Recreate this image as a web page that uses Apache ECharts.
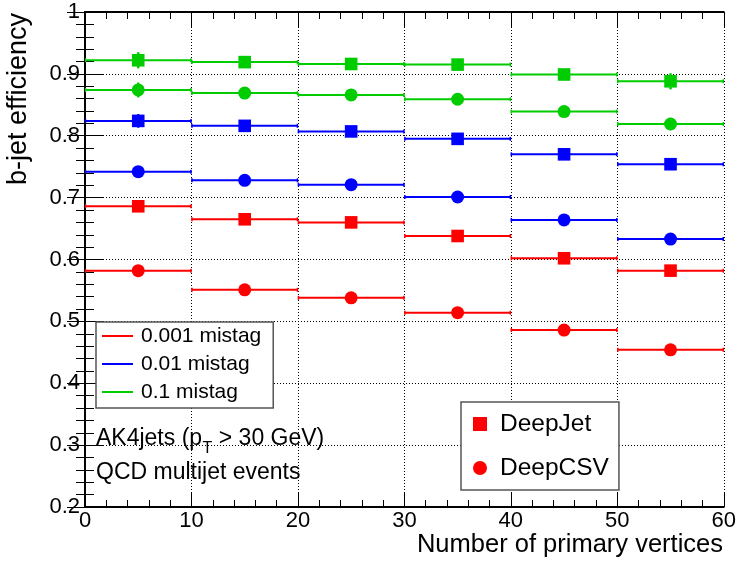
<!DOCTYPE html>
<html>
<head>
<meta charset="utf-8">
<script src="https://cdn.jsdelivr.net/npm/echarts@6/dist/echarts.min.js"></script>
<style>
  html, body { margin: 0; padding: 0; background: #fff; }
  #chart { width: 739px; height: 562px; }
</style>
</head>
<body>
<div id="chart"></div>
<script>
// bins of number of primary vertices
var binEdges = [0, 10, 20, 30, 40, 50, 60];

// b-jet efficiency, one value per bin
var deepJet_0001 = [0.686, 0.665, 0.660, 0.638, 0.602, 0.582];
var deepCSV_0001 = [0.582, 0.551, 0.538, 0.514, 0.486, 0.454];
var deepJet_001 = [0.824, 0.816, 0.807, 0.795, 0.770, 0.754];
var deepCSV_001 = [0.742, 0.728, 0.721, 0.701, 0.664, 0.633];
var deepJet_01 = [0.922, 0.919, 0.916, 0.915, 0.899, 0.888];
var deepCSV_01 = [0.874, 0.869, 0.866, 0.859, 0.839, 0.819];

// statistical errors (only a few stick out of the markers)
var errJet_0001 = [0, 0, 0, 0, 0, 0];
var errCSV_0001 = [0, 0, 0, 0, 0, 0];
var errJet_001 = [0.011, 0, 0, 0, 0, 0];
var errCSV_001 = [0, 0, 0, 0, 0, 0];
var errJet_01 = [0.013, 0, 0, 0, 0, 0.013];
var errCSV_01 = [0.012, 0, 0, 0, 0, 0.010];

var yTicks = [0.2, 0.3, 0.4, 0.5, 0.6, 0.7, 0.8, 0.9, 1];

var fontFamily = "'Liberation Sans', Arial, sans-serif";
var red = "#ff0000", blue = "#0000ff", green = "#00cc00";

function binData(values, errs) {
    var out = [];
    for (var i = 0; i < values.length; i++) {
        out.push([binEdges[i], binEdges[i + 1], values[i], errs[i]]);
    }
    return out;
}

function makeRender(marker) {
    return function (params, api) {
        var lo = api.value(0), hi = api.value(1), v = api.value(2), e = api.value(3);
        var color = api.visual('color');
        var pL = api.coord([lo, v]);
        var pR = api.coord([hi, v]);
        var pC = api.coord([(lo + hi) / 2, v]);
        var lineStyle = { stroke: color, lineWidth: 2 };
        var children = [
            { type: 'line', shape: { x1: pL[0], y1: pL[1], x2: pR[0], y2: pR[1] }, style: lineStyle },
            { type: 'line', shape: { x1: pL[0] + 0.5, y1: pL[1] - 2, x2: pL[0] + 0.5, y2: pL[1] + 2 }, style: { stroke: color, lineWidth: 1.5 } },
            { type: 'line', shape: { x1: pR[0] - 0.5, y1: pR[1] - 2, x2: pR[0] - 0.5, y2: pR[1] + 2 }, style: { stroke: color, lineWidth: 1.5 } }
        ];
        if (e > 0) {
            var pT = api.coord([(lo + hi) / 2, v + e]);
            var pB = api.coord([(lo + hi) / 2, v - e]);
            children.push({ type: 'line', shape: { x1: pT[0], y1: pT[1], x2: pB[0], y2: pB[1] }, style: { stroke: color, lineWidth: 2.5 } });
        }
        if (marker === 'square') {
            children.push({ type: 'rect', shape: { x: pC[0] - 6.3, y: pC[1] - 6.3, width: 12.6, height: 12.6 }, style: { fill: color } });
        } else {
            children.push({ type: 'circle', shape: { cx: pC[0], cy: pC[1], r: 6.5 }, style: { fill: color } });
        }
        return { type: 'group', children: children };
    };
}

function binSeries(name, color, marker, values, errs) {
    return {
        name: name,
        type: 'custom',
        renderItem: makeRender(marker),
        itemStyle: { color: color },
        encode: { x: [0, 1], y: 2 },
        data: binData(values, errs),
        clip: true,
        animation: false
    };
}

// text width, used to put the p_T subscript after "p"
var measureCtx = document.createElement('canvas').getContext('2d');
function textWidth(str, size) {
    measureCtx.font = size + 'px ' + fontFamily;
    return measureCtx.measureText(str).width;
}

var labelX = 96;
var part1 = 'AK4jets (p', subT = 'T', part2 = ' > 30 GeV)';
var w1 = textWidth(part1, 23);
var wT = textWidth(subT, 16);

var myChart = echarts.init(document.getElementById('chart'));

var axisText = { color: '#000', fontFamily: fontFamily, fontSize: 22 };

var option = {
    animation: false,
    grid: { left: 85, right: 14, top: 12, bottom: 55 },
    xAxis: [{
        type: 'value', min: 0, max: 60, interval: 10, position: 'bottom',
        axisLine: { lineStyle: { color: '#000', width: 2 } },
        axisTick: { inside: true, length: 15, lineStyle: { color: '#000', width: 1 } },
        minorTick: { show: true, splitNumber: 5, length: 7, lineStyle: { color: '#000', width: 1 } },
        axisLabel: Object.assign({ margin: 3 }, axisText),
        splitLine: { show: true, lineStyle: { color: '#000', width: 1, type: [1, 2] } }
    }, {
        type: 'value', min: 0, max: 60, interval: 10, position: 'top',
        axisLine: { lineStyle: { color: '#000', width: 2 } },
        axisTick: { inside: true, length: 15, lineStyle: { color: '#000', width: 1 } },
        minorTick: { show: true, splitNumber: 5, length: 7, lineStyle: { color: '#000', width: 1 } },
        axisLabel: { show: false },
        splitLine: { show: false }
    }],
    yAxis: [{
        type: 'value', min: yTicks[0], max: yTicks[yTicks.length - 1], interval: 0.1, position: 'left',
        axisLine: { show: true, lineStyle: { color: '#000', width: 2 } },
        axisTick: { show: true, inside: true, length: 18, lineStyle: { color: '#000', width: 1 } },
        minorTick: { show: true, splitNumber: 5, length: 9, lineStyle: { color: '#000', width: 1 } },
        axisLabel: Object.assign({ margin: 5 }, axisText),
        splitLine: { show: true, lineStyle: { color: '#000', width: 1, type: [1, 2] } }
    }, {
        type: 'value', min: yTicks[0], max: yTicks[yTicks.length - 1], interval: 0.1, position: 'right',
        axisLine: { show: true, lineStyle: { color: '#000', width: 2 } },
        axisTick: { show: true, inside: true, length: 18, lineStyle: { color: '#000', width: 1 } },
        minorTick: { show: true, splitNumber: 5, length: 9, lineStyle: { color: '#000', width: 1 } },
        axisLabel: { show: false },
        splitLine: { show: false }
    }],
    legend: [{
        data: [
            { name: '0.001 mistag', icon: 'rect' },
            { name: '0.01 mistag', icon: 'rect' },
            { name: '0.1 mistag', icon: 'rect' }
        ],
        orient: 'vertical', left: 96, top: 322,
        itemWidth: 31, itemHeight: 2, itemGap: 0,
        backgroundColor: '#fff', borderColor: '#555', borderWidth: 1.5,
        padding: [0, 12, 2, 6],
        selectedMode: false,
        textStyle: { color: '#000', fontFamily: fontFamily, fontSize: 21, lineHeight: 28, padding: [0, 0, 0, 3] }
    }, {
        data: [
            { name: 'DeepJet', icon: 'rect' },
            { name: 'DeepCSV', icon: 'circle' }
        ],
        orient: 'vertical', left: 461, top: 402,
        itemWidth: 14, itemHeight: 14, itemGap: 0,
        backgroundColor: '#fff', borderColor: '#555', borderWidth: 1.5,
        padding: [0, 10, 0, 12],
        selectedMode: false,
        itemStyle: { opacity: 1 },
        textStyle: { color: '#000', fontFamily: fontFamily, fontSize: 24.5, lineHeight: 44, padding: [0, 0, 0, 8] }
    }],
    graphic: [{
        type: 'text', x: 18.5, y: 13, rotation: Math.PI / 2,
        style: { text: 'b-jet efficiency', fill: '#000', font: '27px ' + fontFamily, align: 'right', verticalAlign: 'middle' }
    }, {
        type: 'text', x: 723, y: 545,
        style: { text: 'Number of primary vertices', fill: '#000', font: '25.5px ' + fontFamily, align: 'right', verticalAlign: 'middle' }
    }, {
        type: 'text', x: labelX, y: 439,
        style: { text: part1, fill: '#000', font: '23px ' + fontFamily, align: 'left', verticalAlign: 'middle' }
    }, {
        type: 'text', x: labelX + w1 + 0.5, y: 449,
        style: { text: subT, fill: '#000', font: '16px ' + fontFamily, align: 'left', verticalAlign: 'middle' }
    }, {
        type: 'text', x: labelX + w1 + wT + 0.5, y: 439,
        style: { text: part2, fill: '#000', font: '23px ' + fontFamily, align: 'left', verticalAlign: 'middle' }
    }, {
        type: 'text', x: labelX, y: 473,
        style: { text: 'QCD multijet events', fill: '#000', font: '23px ' + fontFamily, align: 'left', verticalAlign: 'middle' }
    }],
    series: [
        binSeries('0.001 mistag', red, 'square', deepJet_0001, errJet_0001),
        binSeries('0.001 mistag', red, 'circle', deepCSV_0001, errCSV_0001),
        binSeries('0.01 mistag', blue, 'square', deepJet_001, errJet_001),
        binSeries('0.01 mistag', blue, 'circle', deepCSV_001, errCSV_001),
        binSeries('0.1 mistag', green, 'square', deepJet_01, errJet_01),
        binSeries('0.1 mistag', green, 'circle', deepCSV_01, errCSV_01),
        // marker-only entries for the second legend
        { name: 'DeepJet', type: 'scatter', symbol: 'rect', itemStyle: { color: red, opacity: 1 }, data: [] },
        { name: 'DeepCSV', type: 'scatter', symbol: 'circle', itemStyle: { color: red, opacity: 1 }, data: [] }
    ]
};
myChart.setOption(option);
</script>
</body>
</html>
